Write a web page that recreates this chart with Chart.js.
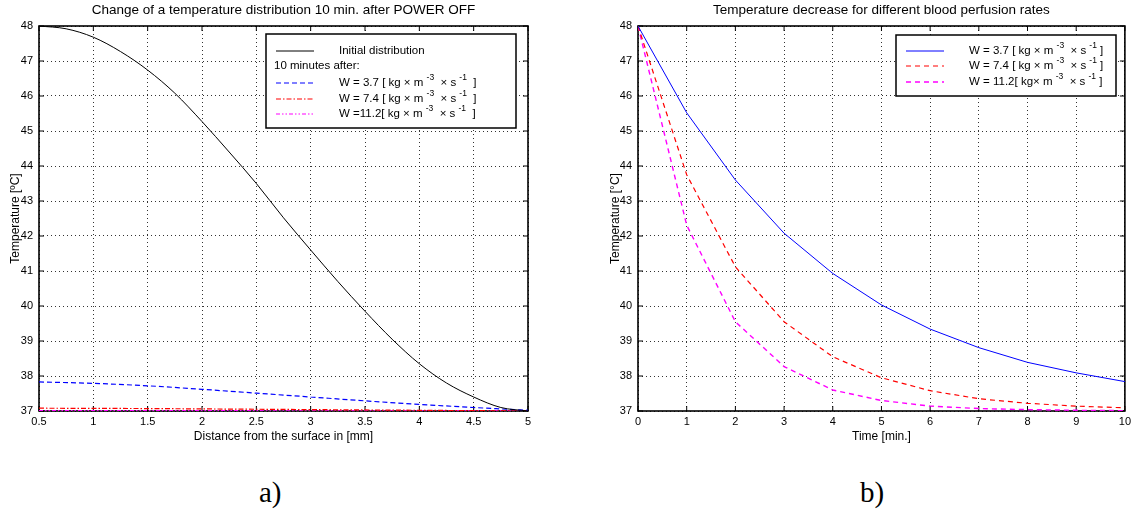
<!DOCTYPE html>
<html>
<head>
<meta charset="utf-8">
<script src="https://cdn.jsdelivr.net/npm/chart.js@4.4.0/dist/chart.umd.min.js"></script>
<style>
  body { margin: 0; background: #fff; width: 1135px; height: 514px; position: relative; overflow: hidden; }
  .panel { position: absolute; top: 0; height: 450px; }
  #panelA { left: 0; width: 567px; }
  #panelB { left: 600px; width: 535px; }
  .etiqueta { position: absolute; top: 476px; font-family: "Liberation Serif", "DejaVu Serif", serif; font-size: 29px; color: #000; }
</style>
</head>
<body>
<div class="panel" id="panelA"><canvas id="graficoA" width="567" height="450"></canvas></div>
<div class="panel" id="panelB"><canvas id="graficoB" width="535" height="450"></canvas></div>
<div class="etiqueta" style="left:259px">a)</div>
<div class="etiqueta" style="left:860px">b)</div>

<script>
// --- datos: perfil de temperatura (a) ---
const distanciaFina = [0.5, 0.75, 1, 1.25, 1.5, 1.75, 2, 2.25, 2.5, 2.75, 3, 3.25, 3.5, 3.75, 4, 4.25, 4.5, 4.75, 5];
const tempInicial = [48.0, 47.92, 47.68, 47.27, 46.74, 46.08, 45.27, 44.4, 43.5, 42.52, 41.6, 40.7, 39.85, 39.05, 38.35, 37.8, 37.4, 37.1, 37.0];
const distancia = [0.5, 1, 1.5, 2, 2.5, 3, 3.5, 4, 4.5, 5];
const temp37 = [37.83, 37.79, 37.72, 37.62, 37.51, 37.4, 37.29, 37.19, 37.1, 37.02];
const temp74 = [37.08, 37.075, 37.07, 37.06, 37.05, 37.04, 37.03, 37.02, 37.01, 37.0];
const temp112 = [37.012, 37.011, 37.01, 37.009, 37.008, 37.006, 37.005, 37.003, 37.002, 37.0];

// --- datos: enfriamiento en el tiempo (b) ---
const tiempo = [0, 1, 2, 3, 4, 5, 6, 7, 8, 9, 10];
const enfr37 = [48.0, 45.52, 43.6, 42.08, 40.93, 40.03, 39.34, 38.81, 38.39, 38.09, 37.84];
const enfr74 = [48.0, 43.75, 41.12, 39.55, 38.55, 37.95, 37.58, 37.35, 37.22, 37.14, 37.09];
const enfr112 = [48.0, 42.31, 39.55, 38.27, 37.6, 37.3, 37.14, 37.07, 37.04, 37.02, 37.01];

// --- textos ---
const tituloA = 'Change of a temperature distribution 10 min. after POWER OFF';
const tituloB = 'Temperature decrease for different blood perfusion rates';
const ejeXA = 'Distance from the surface in [mm]';
const ejeXB = 'Time [min.]';
const ejeYA = 'Temperature [ºC]';
const ejeYB = 'Temperature [°C]';
const leyendaA = ['Initial distribution', '10 minutes after:',
  'W = 3.7 [ kg × m ^{-3}  × s ^{-1}  ]', 'W = 7.4 [ kg × m ^{-3}  × s ^{-1}  ]', 'W =11.2[ kg × m ^{-3}  × s ^{-1}  ]'];
const leyendaB = ['W = 3.7 [ kg × m ^{-3}  × s ^{-1} ]', 'W = 7.4 [ kg × m ^{-3}  × s ^{-1} ]', 'W = 11.2[ kg× m ^{-3}  × s ^{-1} ]'];
const ticksY = [37, 38, 39, 40, 41, 42, 43, 44, 45, 46, 47, 48];

const FUENTE = '"Liberation Sans", Arial, Helvetica, sans-serif';
Chart.defaults.font.family = FUENTE;
Chart.defaults.font.size = 11;
Chart.defaults.color = '#000';

const pares = (xs, ys) => xs.map((x, i) => ({ x: x, y: ys[i] }));

// escribe texto con exponentes marcados como ^{...}
function textoConExp(ctx, texto, x, y, tam) {
  const partes = texto.split(/\^\{([^}]*)\}/);
  ctx.textBaseline = 'middle';
  ctx.textAlign = 'left';
  partes.forEach((p, i) => {
    if (i % 2 === 1) {
      ctx.font = (tam - 3) + 'px ' + FUENTE;
      ctx.fillText(p, x, y - 5);
    } else {
      ctx.font = tam + 'px ' + FUENTE;
      ctx.fillText(p, x, y);
    }
    x += ctx.measureText(p).width;
  });
}

// marco cerrado y marcas hacia adentro, estilo matlab
const marco = {
  id: 'marco',
  beforeDatasetsDraw(chart) {
    const { ctx, chartArea: a, scales } = chart;
    ctx.save();
    ctx.strokeStyle = '#000';
    ctx.lineWidth = 1;
    ctx.beginPath();
    scales.x.ticks.forEach(t => {
      const px = scales.x.getPixelForValue(t.value);
      ctx.moveTo(px, a.bottom); ctx.lineTo(px, a.bottom - 5);
      ctx.moveTo(px, a.top); ctx.lineTo(px, a.top + 5);
    });
    scales.y.ticks.forEach(t => {
      const py = scales.y.getPixelForValue(t.value);
      ctx.moveTo(a.left, py); ctx.lineTo(a.left + 5, py);
      ctx.moveTo(a.right, py); ctx.lineTo(a.right - 5, py);
    });
    ctx.stroke();
    ctx.lineWidth = 1.6;
    ctx.strokeRect(a.left, a.top, a.right - a.left, a.bottom - a.top);
    ctx.restore();
  }
};

// leyenda en caja con muestras de linea
const leyenda = {
  id: 'leyenda',
  afterDraw(chart, args, opts) {
    const { ctx, chartArea: a } = chart;
    const [bx, by, bw, bh] = opts.caja;
    ctx.save();
    ctx.fillStyle = '#fff';
    ctx.fillRect(a.left + bx, a.top + by, bw, bh);
    ctx.strokeStyle = '#000';
    ctx.lineWidth = 1.5;
    ctx.strokeRect(a.left + bx, a.top + by, bw, bh);
    opts.filas.forEach(f => {
      const y = a.top + f.y;
      if (f.serie !== null) {
        const ds = chart.data.datasets[f.serie];
        ctx.strokeStyle = ds.borderColor;
        ctx.lineWidth = ds.borderWidth;
        ctx.setLineDash(ds.borderDash || []);
        ctx.beginPath();
        ctx.moveTo(a.left + opts.muestra[0], y);
        ctx.lineTo(a.left + opts.muestra[1], y);
        ctx.stroke();
        ctx.setLineDash([]);
      }
      ctx.fillStyle = '#000';
      textoConExp(ctx, f.texto, a.left + f.x, y, 11.5);
    });
    ctx.restore();
  }
};

function ejes(xMin, xMax, paso, tituloX, tituloY, anchoY) {
  const rejilla = { color: 'rgba(0,0,0,0.8)', lineWidth: 1, drawTicks: false };
  return {
    x: {
      type: 'linear', min: xMin, max: xMax,
      ticks: { stepSize: paso, padding: 4, maxRotation: 0, callback: v => String(v) },
      grid: rejilla,
      border: { display: false, dash: [1, 3] },
      title: { display: true, text: tituloX, font: { size: 12 }, padding: { top: 0, bottom: 6 } },
      afterFit: s => { s.height = 39; }
    },
    y: {
      min: 37, max: 48,
      afterBuildTicks: s => { s.ticks = ticksY.map(v => ({ value: v })); },
      ticks: { padding: 6 },
      grid: rejilla,
      border: { display: false, dash: [1, 3] },
      title: { display: true, text: tituloY, font: { size: 12 }, padding: { top: 8, bottom: 0 } },
      afterFit: s => { s.width = anchoY; }
    }
  };
}

function titulo(texto) {
  return { display: true, text: texto, fullSize: false, color: '#000',
    font: { size: 13.5, weight: 'normal' }, padding: { top: 2, bottom: 7.8 } };
}

new Chart(document.getElementById('graficoA'), {
  type: 'line',
  data: {
    datasets: [
      { data: pares(distanciaFina, tempInicial), borderColor: '#000', borderWidth: 1, cubicInterpolationMode: 'monotone' },
      { data: pares(distancia, temp37), borderColor: '#0000ff', borderWidth: 1.2, borderDash: [5, 3], cubicInterpolationMode: 'monotone' },
      { data: pares(distancia, temp74), borderColor: '#ff0000', borderWidth: 1.2, borderDash: [5, 2, 1.5, 2] },
      { data: pares(distancia, temp112), borderColor: '#ff00ff', borderWidth: 1.2, borderDash: [4, 2, 1.5, 2, 1.5, 2] }
    ]
  },
  options: {
    responsive: false,
    animation: false,
    elements: { point: { radius: 0 } },
    layout: { padding: { left: 0, right: 39, top: 0, bottom: 0 } },
    scales: ejes(0.5, 5, 0.5, ejeXA, ejeYA, 39),
    plugins: {
      legend: { display: false },
      tooltip: { enabled: false },
      title: titulo(tituloA),
      leyenda: {
        caja: [227, 8, 250, 94],
        muestra: [237, 275],
        filas: [
          { serie: 0, texto: leyendaA[0], x: 300, y: 25 },
          { serie: null, texto: leyendaA[1], x: 235, y: 40 },
          { serie: 1, texto: leyendaA[2], x: 300, y: 57 },
          { serie: 2, texto: leyendaA[3], x: 300, y: 73 },
          { serie: 3, texto: leyendaA[4], x: 300, y: 88 }
        ]
      }
    }
  },
  plugins: [marco, leyenda]
});

new Chart(document.getElementById('graficoB'), {
  type: 'line',
  data: {
    datasets: [
      { data: pares(tiempo, enfr37), borderColor: '#0000ff', borderWidth: 1 },
      { data: pares(tiempo, enfr74), borderColor: '#ff0000', borderWidth: 1.2, borderDash: [5, 4] },
      { data: pares(tiempo, enfr112), borderColor: '#ff00ff', borderWidth: 1.4, borderDash: [5, 4] }
    ]
  },
  options: {
    responsive: false,
    animation: false,
    elements: { point: { radius: 0 }, line: { tension: 0 } },
    layout: { padding: { left: 0, right: 7, top: 0, bottom: 0 } },
    scales: ejes(0, 10, 1, ejeXB, ejeYB, 38),
    plugins: {
      legend: { display: false },
      tooltip: { enabled: false },
      title: titulo(tituloB),
      leyenda: {
        caja: [258, 9, 220, 61],
        muestra: [268, 306],
        filas: [
          { serie: 0, texto: leyendaB[0], x: 331, y: 25 },
          { serie: 1, texto: leyendaB[1], x: 331, y: 40 },
          { serie: 2, texto: leyendaB[2], x: 331, y: 56 }
        ]
      }
    }
  },
  plugins: [marco, leyenda]
});
</script>
</body>
</html>
